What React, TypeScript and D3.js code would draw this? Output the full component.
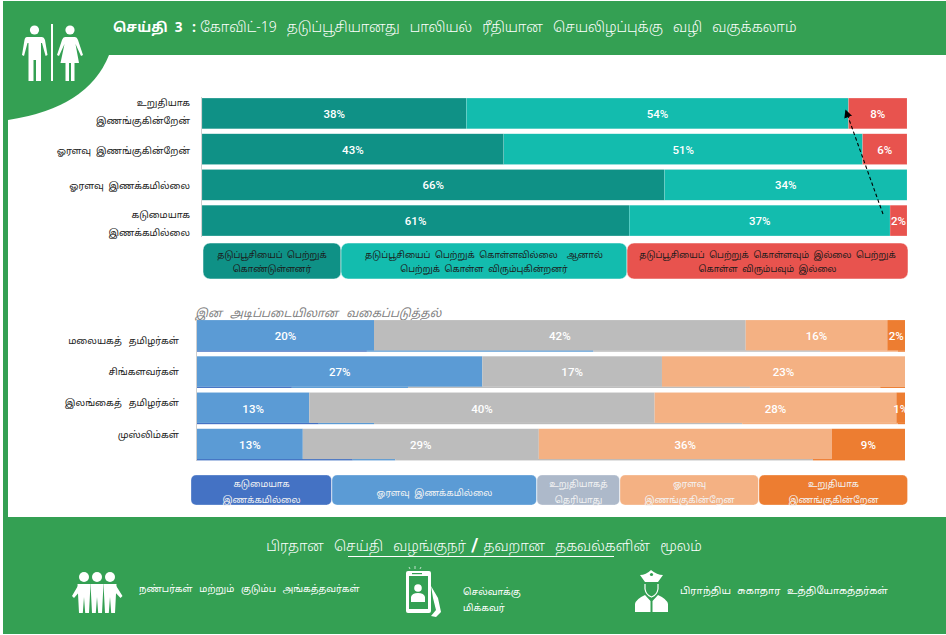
import React from 'react';
import * as d3 from 'd3';

const GREEN = '#34a053';
const TAMIL = '"Noto Sans Tamil", "Noto Sans", "Noto Sans CJK SC", sans-serif';

// top chart: share of answers per agreement level
const topRows = [['உறுதியாக', 'இணங்குகின்றேன்'], ['ஓரளவு  இணங்குகின்றேன்'], ['ஓரளவு  இணக்கமில்லை'], ['கடுமையாக', 'இணக்கமில்லை']];
const topKeys = ['taken', 'willing', 'refuse'];
const topColors = ['#0f9186', '#13bcae', '#e8534e'];
const takenValues = [37.5, 42.8, 65.6, 60.6];
const willingValues = [54.2, 50.9, 34.4, 37.0];
const refuseValues = [8.3, 6.3, 0, 2.4];
const topLabelOffsets = [-7, 5, 4, -3];
const topLegend = [
  ['தடுப்பூசியைப்  பெற்றுக்', 'கொண்டுள்ளனர்'],
  ['தடுப்பூசியைப்  பெற்றுக்  கொள்ளவில்லை    ஆனால்', 'பெற்றுக்  கொள்ள  விரும்புகின்றனர்'],
  ['தடுப்பூசியைப்  பெற்றுக்  கொள்ளவும்  இல்லை  பெற்றுக்', 'கொள்ள  விரும்பவும்  இல்லை'],
];
const topLegendEnds = [203, 341, 627, 908];

// bottom chart: labels are raw percentages, the bars are expanded to full width
const ethnicRows = ['மலையகத்  தமிழர்கள்', 'சிங்களவர்கள்', 'இலங்கைத்  தமிழர்கள்', 'முஸ்லிம்கள்'];
const ethnicKeys = ['disagreeSome', 'unsure', 'agreeSome', 'agreeStrong'];
const ethnicColors = ['#5b9bd5', '#bcbcbc', '#f4b183', '#ed7d31'];
const disagreeSome = [20, 27, 13, 13];
const unsure = [42, 17, 40, 29];
const agreeSome = [16, 23, 28, 36];
const agreeStrong = [2, 0, 1, 9];

// thin strip left showing under the bottom edge of each bar
const stripKeys = ['a', 'b', 'c', 'd', 'e'];
const stripColors = ['#4472c4', '#5b9bd5', '#bcbcbc', '#f4b183', '#ed7d31'];
const stripA = [24, 13.4, 17.2, 22];
const stripB = [32, 16.4, 7.8, 6];
const stripC = [32, 48.3, 52, 59];
const stripD = [11, 18.4, 22, 0];
const stripE = [1, 3.5, 1, 13];

const bottomLegend = [
  { lines: ['கடுமையாக', 'இணக்கமில்லை'], color: '#4472c4' },
  { lines: ['ஓரளவு  இணக்கமில்லை'], color: '#5b9bd5' },
  { lines: ['உறுதியாகத்', 'தெரியாது'], color: '#adb9ca' },
  { lines: ['ஓரளவு', 'இணங்குகின்றேன'], color: '#f4b183' },
  { lines: ['உறுதியாக', 'இணங்குகின்றேன'], color: '#ed7d31' },
];
const bottomLegendEnds = [191, 332, 537, 620, 759, 908];

const toRows = (keys: string[], cols: number[][]) =>
  cols[0].map((_, i) => Object.fromEntries(keys.map((k, j) => [k, cols[j][i]])));

const topStack = d3.stack<any>().keys(topKeys).offset(d3.stackOffsetExpand)(toRows(topKeys, [takenValues, willingValues, refuseValues]));
const ethnicValues = [disagreeSome, unsure, agreeSome, agreeStrong];
const ethnicStack = d3.stack<any>().keys(ethnicKeys).offset(d3.stackOffsetExpand)(toRows(ethnicKeys, ethnicValues));
const stripStack = d3.stack<any>().keys(stripKeys).offset(d3.stackOffsetExpand)(toRows(stripKeys, [stripA, stripB, stripC, stripD, stripE]));

const xTop = d3.scaleLinear().domain([0, 1]).range([202, 907]);
const yTop = d3.scaleBand<number>().domain(d3.range(4)).range([97, 237]).paddingInner(0.14).paddingOuter(0.03);
const xEth = d3.scaleLinear().domain([0, 1]).range([197, 905]);
const yEth = d3.scaleBand<number>().domain(d3.range(4)).range([319, 461]).paddingInner(0.14).paddingOuter(0.03);
const yEthLabel = d3.scalePoint<number>().domain(d3.range(4)).range([343.5, 437.5]);
const topColor = d3.scaleOrdinal<string>().domain(topKeys).range(topColors);
const ethColor = d3.scaleOrdinal<string>().domain(ethnicKeys).range(ethnicColors);
const stripColor = d3.scaleOrdinal<string>().domain(stripKeys).range(stripColors);

const pct = { fontFamily: 'Roboto, sans-serif', fontSize: 11.5, fontWeight: 500, fill: '#fff', textAnchor: 'middle' as const };
const tamil = { fontFamily: TAMIL, whiteSpace: 'pre' as const };

const cornerPath = d3.path();
cornerPath.moveTo(3, 55);
cornerPath.lineTo(109, 55);
cornerPath.quadraticCurveTo(88, 108, 8, 120);
cornerPath.lineTo(3, 120);
cornerPath.closePath();

export default function App() {
  return (
    <svg width={946} height={635} style={{ position: 'absolute', left: 0, top: 0, background: '#fff' }}>
      {/* frame */}
      <rect x={3} y={1} width={943} height={54} fill={GREEN} />
      <path d={cornerPath.toString()} fill={GREEN} />
      <rect x={3} y={55} width={5} height={465} fill={GREEN} />
      <rect x={3} y={517} width={943} height={117} fill={GREEN} />

      {/* restroom icon */}
      <g fill="#fff">
        <circle cx={34.5} cy={30} r={4.6} />
        <path d="M27 37 H42 Q44 37 45 40 L47.5 55 L45.6 56 L42 43 L41 43 V81 H36 V60 H33.5 V81 H28.5 V43 L27.5 43 L24 56 L22 55 L24.5 40 Q25 37 27 37 Z" />
        <rect x={51} y={24} width={2} height={57} />
        <circle cx={70} cy={30} r={4.6} />
        <path d="M65 37 H75 Q77 37 78 40 L83 55 L81 56 L75.5 44 L79 63 H74.5 V81 H71 V63 H69 V81 H65.5 V63 H60.5 L64.5 44 L59 56 L57 55 L62 40 Q63 37 65 37 Z" />
      </g>

      {/* title */}
      <text x={113} y={32} fill="#fff" style={tamil} fontSize={13.5} fontWeight={700}>செய்தி  3</text>
      <text x={192} y={32} fill="#fff" style={tamil} fontSize={14} fontWeight={700}>:</text>
      <text x={200} y={32} fill="#fff" style={tamil} fontSize={14} fontWeight={300} wordSpacing={1.4}>கோவிட்-19  தடுப்பூசியானது  பாலியல்  ரீதியான  செயலிழப்புக்கு  வழி  வகுக்கலாம்</text>

      {/* top chart */}
      <line x1={201.5} x2={201.5} y1={97} y2={237} stroke="#cfcfcf" />
      {topStack.map((s) =>
        s.map((d, i) => {
          const w = xTop(d[1]) - xTop(d[0]);
          if (w <= 0) return null;
          return (
            <g key={s.key + i}>
              <rect x={xTop(d[0])} y={yTop(i)} width={w} height={yTop.bandwidth()} fill={topColor(s.key)} stroke="#fff" strokeOpacity={0.25} strokeWidth={0.5} />
              <text x={(xTop(d[0]) + xTop(d[1])) / 2} y={yTop(i)! + yTop.bandwidth() / 2 + 4.5} {...pct}>
                {Math.round((d.data as any)[s.key])}%
              </text>
            </g>
          );
        }),
      )}
      {topRows.map((lines, i) => {
        const cy = yTop(i)! + yTop.bandwidth() / 2 + topLabelOffsets[i];
        return lines.map((l, j) => (
          <text key={l} x={190} y={cy + j * 18} textAnchor="end" fontSize={9.4} fill="#222" style={tamil}>{l}</text>
        ));
      })}
      {topLegend.map((lines, i) => (
        <g key={i}>
          <rect x={topLegendEnds[i]} y={243} width={topLegendEnds[i + 1] - topLegendEnds[i]} height={36} rx={7} fill={topColors[i]} stroke="#fff" strokeWidth={0.5} />
          {lines.map((l, j) => (
            <text key={j} x={(topLegendEnds[i] + topLegendEnds[i + 1]) / 2} y={258 + j * 14} textAnchor="middle" fontSize={8.8} fill="#1b1b1b" style={tamil}>{l}</text>
          ))}
        </g>
      ))}

      {/* arrow across the top chart */}
      <defs>
        <marker id="head" viewBox="0 0 10 10" refX={8} refY={5} markerWidth={7.5} markerHeight={7.5} orient="auto">
          <path d="M0 0 L10 5 L0 10 Z" fill="#000" />
        </marker>
      </defs>
      <line x1={883} y1={214} x2={846} y2={111} stroke="#000" strokeWidth={1.1} strokeDasharray="3.5 2.5" markerEnd="url(#head)" />

      {/* bottom chart */}
      <text x={195} y={317} fontSize={11.5} fontStyle="italic" fill="#808080" wordSpacing={1} style={tamil}>இன  அடிப்படையிலான  வகைப்படுத்தல்</text>
      <line x1={196.5} x2={196.5} y1={320} y2={461} stroke="#cfcfcf" />
      {stripStack.map((s) =>
        s.map((d, i) => (
          <rect key={s.key + i} x={xEth(d[0])} y={yEth(i)! + yEth.bandwidth() - 1} width={xEth(d[1]) - xEth(d[0])} height={1.5} fill={stripColor(s.key)} />
        )),
      )}
      {ethnicStack.map((s) =>
        s.map((d, i) => {
          const w = xEth(d[1]) - xEth(d[0]);
          if (w <= 0) return null;
          return (
            <g key={s.key + i}>
              <rect x={xEth(d[0])} y={yEth(i)} width={w} height={yEth.bandwidth() - 0.8} fill={ethColor(s.key)} />
              <text x={(xEth(d[0]) + xEth(d[1])) / 2} y={yEth(i)! + yEth.bandwidth() / 2 + 4.5} {...pct}>
                {(d.data as any)[s.key]}%
              </text>
            </g>
          );
        }),
      )}
      {ethnicRows.map((l, i) => (
        <text key={l} x={179} y={yEthLabel(i)} textAnchor="end" fontSize={9.5} fill="#222" wordSpacing={1} style={tamil}>{l}</text>
      ))}
      {bottomLegend.map((b, i) => (
        <g key={i}>
          <rect x={bottomLegendEnds[i]} y={475} width={bottomLegendEnds[i + 1] - bottomLegendEnds[i] - 0.5} height={30} rx={5} fill={b.color} stroke="#fff" strokeOpacity={0.6} strokeWidth={0.5} />
          {b.lines.map((l, j) => (
            <text key={j} x={(bottomLegendEnds[i] + bottomLegendEnds[i + 1]) / 2} y={b.lines.length === 1 ? 496 : 487 + j * 15.5} textAnchor="middle" fontSize={9} fill="#f3f3f3" style={tamil}>{l}</text>
          ))}
        </g>
      ))}

      {/* footer */}
      <text x={484} y={551} textAnchor="middle" fontSize={13.9} fontWeight={300} fill="#fff" wordSpacing={1.5} style={tamil}>பிரதான  செய்தி  வழங்குநர் <tspan fontSize={19} fontWeight={700} fontFamily="Roboto">/</tspan> தவறான  தகவல்களின்  மூலம்</text>
      <line x1={348} x2={614} y1={556.5} y2={556.5} stroke="#fff" />

      {/* friends icon */}
      <g fill="#fff">
        {[84, 97, 110].map((cx) => (
          <g key={cx}>
            <circle cx={cx} cy={577} r={5} />
            <path d={`M${cx - 6.5} 584 H${cx + 6.5} L${cx + 5} 613 H${cx + 1.2} L${cx} 597 L${cx - 1.2} 613 H${cx - 5} Z`} />
          </g>
        ))}
        <path d="M79 584 L72 596 L74 598 L81 590 Z M115 584 L122.5 596 L120.5 598 L113 590 Z" />
      </g>
      <text x={139} y={592} fontSize={9.4} fill="#fff" wordSpacing={1} style={tamil}>நண்பர்கள்  மற்றும்  குடும்ப  அங்கத்தவர்கள்</text>

      {/* phone icon */}
      <g fill="#fff">
        <rect x={406} y={571} width={25} height={42} rx={2} />
        <path d="M431 586 L438 598 L441 612 L436 617 L431 616 L436 610 L433 598 Z" />
        <path d="M410 569 L409 567 M415 569 V566 M420 569 L421 567" stroke="#fff" strokeWidth={0.7} />
      </g>
      <rect x={409} y={576} width={19} height={33} fill={GREEN} />
      <g fill="#fff">
        <rect x={412} y={573} width={10} height={1.2} fill={GREEN} />
        <circle cx={418} cy={588} r={3.8} />
        <path d="M411 602 V597 Q412 593 418 593 Q424 593 425 597 V602 Z" />
      </g>
      <text x={463} y={595} fontSize={9.4} fill="#fff" style={tamil}>செல்வாக்கு</text>
      <text x={463} y={611} fontSize={9.4} fill="#fff" style={tamil}>மிக்கவர்</text>

      {/* officer icon */}
      <g fill="#fff">
        <path d="M640 575 Q646 575 651 570 Q657 575 663 575 L658 582 H645 Z" />
        <circle cx={651.5} cy={574.5} r={1.6} fill={GREEN} />
        <path d="M645 584 V589 Q646 595 651.5 597 Q657 595 658 589 V584" fill="none" stroke="#fff" strokeWidth={1.2} />
        <path d="M635 612 V604 Q636 599 645 595 L650.5 601 V612 Z M668 612 V604 Q667 599 658 595 L652.5 601 V612 Z" />
      </g>
      <text x={680} y={594} fontSize={9.9} fill="#fff" wordSpacing={0.6} style={tamil}>பிராந்திய  சுகாதார  உத்தியோகத்தர்கள்</text>
    </svg>
  );
}
